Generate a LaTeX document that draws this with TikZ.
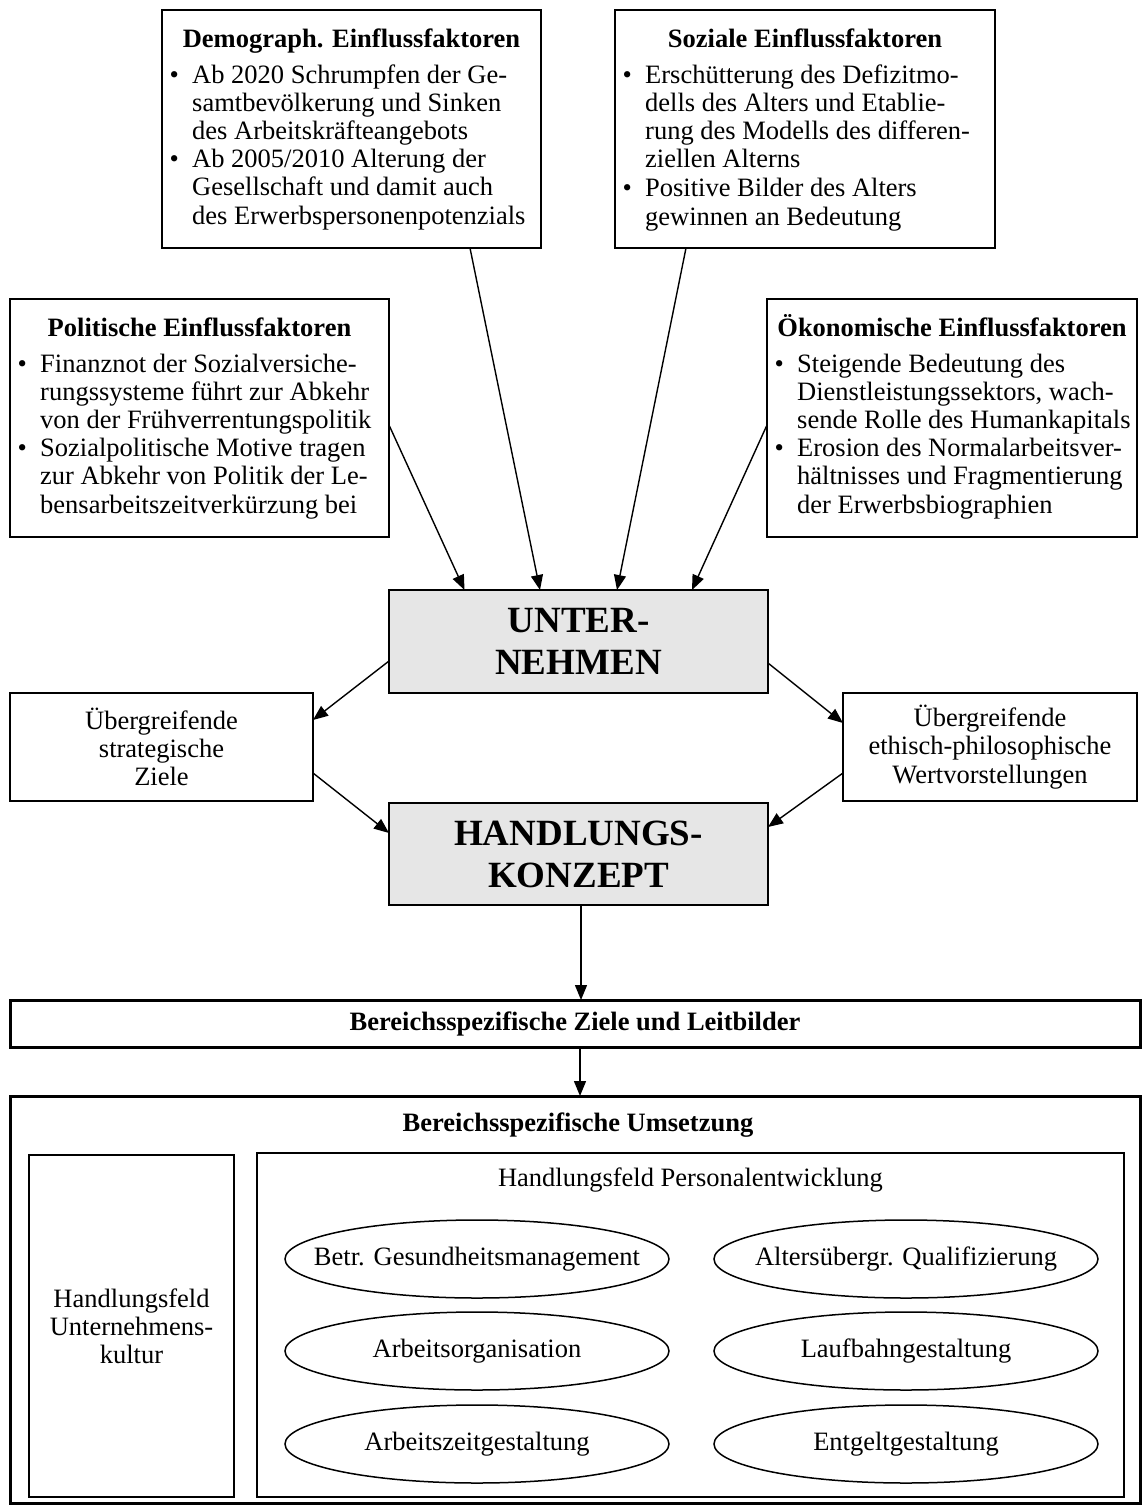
\documentclass[tikz,border=0pt]{standalone}
\usepackage{fontspec}
\setmainfont{Liberation Serif}
\usetikzlibrary{arrows.meta,shapes.geometric}
\definecolor{boxgray}{RGB}{230,230,230}
\newcommand{\bodysize}{\fontsize{26.5}{28.2}\selectfont}
\newcommand{\bigsize}{\fontsize{37}{42}\selectfont\bfseries}
% zero-width label so the ellipse keeps its fixed size
\newcommand{\ovaltext}[1]{\makebox[0pt]{#1}}
\tikzset{
  box/.style={draw, line width=2.2pt, inner sep=0pt, outer sep=0pt, align=center},
  widebox/.style={box, line width=3pt},
  innerbox/.style={box, line width=1.8pt},
  gbox/.style={box, fill=boxgray, font=\bigsize},
  oval/.style={ellipse, draw, line width=1.5pt, inner sep=0pt, outer sep=0pt,
               minimum width=384pt, minimum height=78pt},
  arr/.style={-{Triangle[length=15pt,width=12pt]}, line width=1.4pt},
  head/.style={font=\bodysize\bfseries, anchor=base, inner sep=0pt},
  list/.style={anchor=base west, inner sep=0pt, align=left},
}
\newcommand{\bul}{\textbullet}
\begin{document}
\begin{tikzpicture}[x=1pt, y=-1pt, font=\bodysize]
\useasboundingbox (0,0) rectangle (1146,1508);

% influence factor boxes
\node[box, minimum width=379pt, minimum height=238pt] (demo) at (351.5,129) {};
\node[box, minimum width=380pt, minimum height=238pt] (soz) at (805,129) {};
\node[box, minimum width=379pt, minimum height=238pt] (pol) at (199.5,418) {};
\node[box, minimum width=370pt, minimum height=238pt] (oek) at (952,418) {};

\node[head] (demoh) at (351.5,47.5) {Demograph. Einflussfaktoren};
\node[list] (demol) at (169.5,83) {\begin{tabular}[t]{@{}p{22.5pt}@{}l@{}}
\bul & Ab 2020 Schrumpfen der Ge-\\
 & samtbevölkerung und Sinken\\
 & des Arbeitskräfteangebots\\
\bul & Ab 2005/2010 Alterung der\\
 & Gesellschaft und damit auch\\
 & des Erwerbspersonenpotenzials
\end{tabular}};

\node[head] (sozh) at (805,47.5) {Soziale Einflussfaktoren};
\node[list] (sozl) at (622.5,83) {\begin{tabular}[t]{@{}p{22.5pt}@{}l@{}}
\bul & Erschütterung des Defizitmo-\\
 & dells des Alters und Etablie-\\
 & rung des Modells des differen-\\
 & ziellen Alterns\\[1pt]
\bul & Positive Bilder des Alters\\
 & gewinnen an Bedeutung
\end{tabular}};

\node[head] (polh) at (199.5,336.5) {Politische Einflussfaktoren};
\node[list] (poll) at (17.5,372) {\begin{tabular}[t]{@{}p{22.5pt}@{}l@{}}
\bul & Finanznot der Sozialversiche-\\
 & rungssysteme führt zur Abkehr\\
 & von der Frühverrentungspolitik\\
\bul & Sozialpolitische Motive tragen\\
 & zur Abkehr von Politik der Le-\\
 & bensarbeitszeitverkürzung bei
\end{tabular}};

\node[head] (oekh) at (952,336.5) {Ökonomische Einflussfaktoren};
\node[list] (oekl) at (774.5,372) {\begin{tabular}[t]{@{}p{22.5pt}@{}l@{}}
\bul & Steigende Bedeutung des\\
 & Dienstleistungssektors, wach-\\
 & sende Rolle des Humankapitals\\
\bul & Erosion des Normalarbeitsver-\\
 & hältnisses und Fragmentierung\\
 & der Erwerbsbiographien
\end{tabular}};

% central chain
\node[gbox, minimum width=379pt, minimum height=103pt] (unt) at (578.5,641.5) {UNTER-\\NEHMEN};
\node[box, minimum width=303pt, minimum height=108pt] (zl) at (161.5,747)
  {Übergreifende\\strategische\\Ziele};
\node[box, minimum width=294pt, minimum height=108pt] (zr) at (990,747)
  {Übergreifende\\ethisch-philosophische\\Wertvorstellungen};
\node[gbox, minimum width=379pt, minimum height=102pt] (hk) at (578.5,854) {HANDLUNGS-\\KONZEPT};

\node[widebox, minimum width=1130pt, minimum height=47pt, font=\bodysize\bfseries] (leit) at (575,1023.5)
  {Bereichsspezifische Ziele und Leitbilder};

% implementation area
\node[widebox, minimum width=1130pt, minimum height=407pt] (ums) at (575,1299.5) {};
\node[head] (umsh) at (578,1131) {Bereichsspezifische Umsetzung};
\node[innerbox, minimum width=205pt, minimum height=342pt] (kul) at (131.5,1326)
  {Handlungsfeld\\Unternehmens-\\kultur};
\node[innerbox, minimum width=867pt, minimum height=344pt] (pe) at (690.5,1325) {};
\node[anchor=base, inner sep=0pt] (peh) at (690.5,1186) {Handlungsfeld Personalentwicklung};

\node[oval] (o1) at (477,1259) {\ovaltext{Betr. Gesundheitsmanagement}};
\node[oval] (o2) at (906,1259) {\ovaltext{Altersübergr. Qualifizierung}};
\node[oval] (o3) at (477,1351) {\ovaltext{Arbeitsorganisation}};
\node[oval] (o4) at (906,1351) {\ovaltext{Laufbahngestaltung}};
\node[oval] (o5) at (477,1444) {\ovaltext{Arbeitszeitgestaltung}};
\node[oval] (o6) at (906,1444) {\ovaltext{Entgeltgestaltung}};

% connectors
\draw[arr] ([yshift=-7pt]pol.east) -- ([xshift=-114pt]unt.north);
\draw[arr] ([xshift=118.5pt]demo.south) -- ([xshift=-38.5pt]unt.north);
\draw[arr] ([xshift=-119pt]soz.south) -- ([xshift=38.5pt]unt.north);
\draw[arr] ([yshift=-7pt]oek.west) -- ([xshift=113.5pt]unt.north);

\draw[arr] ([yshift=-19.5pt]unt.west) -- ([yshift=27pt]zl.east);
\draw[arr] ([yshift=-21.5pt]unt.east) -- ([yshift=24pt]zr.west);
\draw[arr] ([yshift=-26pt]zl.east) -- ([yshift=21pt]hk.west);
\draw[arr] ([yshift=-26pt]zr.west) -- ([yshift=27pt]hk.east);

\draw[arr] ([xshift=2.5pt]hk.south) -- ([xshift=6pt]leit.north);
\draw[arr] ([xshift=5pt]leit.south) -- ([xshift=5pt]ums.north);
\end{tikzpicture}
\end{document}
